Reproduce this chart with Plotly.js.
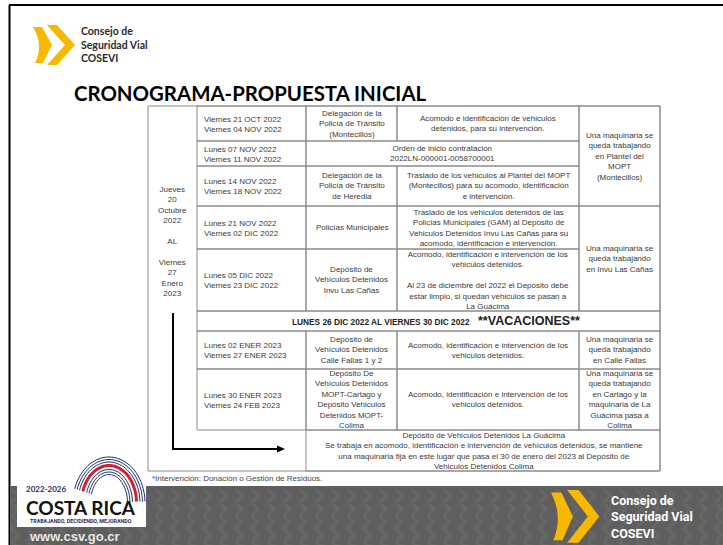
<!DOCTYPE html>
<html><head><meta charset="utf-8">
<script src="https://cdn.plot.ly/plotly-3.0.1.min.js"></script>
<style>html,body{margin:0;padding:0;background:#fff;overflow:hidden}</style>
</head><body><div id="chart" style="width:723px;height:545px"></div>
<script>
// ---------- content ----------
const title = "CRONOGRAMA-PROPUESTA INICIAL";
const orgName = ["Consejo de", "Seguridad Vial", "COSEVI"];
const periodLabel = ["Jueves", "20", "Octubre", "2022", "", "AL", "", "Viernes", "27", "Enero", "2023"];
const startDates = ["Viernes 21 OCT 2022", "Lunes 07 NOV 2022", "Lunes 14 NOV 2022", "Lunes 21 NOV 2022", "Lunes 05 DIC 2022", "Lunes 02 ENER 2023", "Lunes 30 ENER 2023"];
const endDates = ["Viernes 04 NOV 2022", "Viernes 11 NOV 2022", "Viernes 18 NOV 2022", "Viernes 02 DIC 2022", "Viernes 23 DIC 2022", "Viernes 27 ENER 2023", "Viernes 24 FEB 2023"];
const places = [
  ["Delegación de la", "Policía de Tránsito", "(Montecillos)"],
  null,
  ["Delegación de la", "Policía de Tránsito", "de Heredia"],
  ["Policías Municipales"],
  ["Depósito de", "Vehículos Detenidos", "Invu Las Cañas"],
  ["Depósito de", "Vehículos Detenidos", "Calle Fallas 1 y 2"],
  ["Depósito De", "Vehículos Detenidos", "MOPT-Cartago y", "Depósito Vehiculos", "Detenidos MOPT-", "Colima"]
];
const activities = [
  ["Acomodo e identificación de vehiculos", "detenidos, para su intervención."],
  ["Orden de inicio contratación", "2022LN-000001-0058700001"],
  ["Traslado de los vehiculos al Plantel del MOPT", "(Montecillos) para su acomodo, identificación", "e intervención."],
  ["Traslado de los vehiculos detenidos de las", "Policías Municipales (GAM) al Depósito de", "Vehiculos Detenidos Invu Las Cañas para su", "acomodo, identificación e intervención."],
  ["Acomodo, identificación e intervención de los", "vehiculos detenidos.", "", "Al 23 de diciembre del 2022 el Depósito debe", "estar limpio, si quedan vehiculos se pasan a", "La Guácima"],
  ["Acomodo, identificación e intervención de los", "vehiculos detenidos."],
  ["Acomodo, identificación e intervención de los", "vehiculos detenidos."]
];
const machinery = [
  ["Una maquinaria se", "queda trabajando", "en Plantel del", "MOPT", "(Montecillos)"],
  ["Una maquinaria se", "queda trabajando", "en Invu Las Cañas"],
  ["Una maquinaria se", "queda trabajando", "en Calle Fallas"],
  ["Una maquinaria se", "queda trabajando", "en Cartago y la", "maquinaria de La", "Guácima pasa a", "Colima"]
];
const vacationDates = "LUNES 26 DIC 2022 AL VIERNES 30 DIC 2022";
const vacationLabel = "**VACACIONES**";
const finalNote = ["Depósito de Vehiculos Detenidos La Guácima",
  "Se trabaja en acomodo, identificación e intervención de vehículos detenidos, se mantiene",
  "una maquinaria fija en este lugar que pasa el 30 de enero del 2023 al Depósito de",
  "Vehiculos Detenidos Colima"];
const footnote = "*Intervención: Donación o Gestión de Residuos.";
const govYears = "2022-2026";
const govName = "COSTA RICA";
const govMotto = "TRABAJANDO, DECIDIENDO, MEJORANDO";
const website = "www.csv.go.cr";

// ---------- layout geometry (pixel grid) ----------
const W = 723, H = 545;
const rowEdges = [106, 141, 166, 206, 249, 311, 331, 369, 430, 471];
const colEdges = [148, 197, 306, 397, 579, 660];
const dataRows = [0, 1, 2, 3, 4, 6, 7];      // table rows holding the 7 periods
const machineRows = [[0, 2], [3, 4], [6, 6], [7, 7]];
const vacRow = 5, finalRow = 8;

const lineCol = "#8a8a8a";
const txtCol = "#3a3a3a";
const tFont = {family: "Liberation Sans, Arial, sans-serif", size: 8, color: txtCol};

const shapes = [];
const ann = [];
function rect(x0, x1, y0, y1, lc, lw, fill) {
  shapes.push({type: "rect", xref: "x", yref: "y", x0, x1, y0, y1,
    line: {color: lc || lineCol, width: lw === undefined ? 1 : lw}, fillcolor: fill || "rgba(0,0,0,0)", layer: "above"});
}
function path(d, fill, lc, lw, layer) {
  shapes.push({type: "path", xref: "x", yref: "y", path: d, fillcolor: fill || "rgba(0,0,0,0)",
    line: {color: lc || "rgba(0,0,0,0)", width: lw || 0}, layer: layer || "above"});
}
function text(t, x, y, font, xa, ya, align) {
  ann.push({text: t, x, y, xref: "x", yref: "y", showarrow: false, font: font,
    xanchor: xa || "center", yanchor: ya || "middle", align: align || "center"});
}
const mid = (a, b) => (a + b) / 2;

// slide frame
path(`M9,5 L${W},5`, null, "#000", 2);
path(`M9.5,5 L9.5,${H}`, null, "#000", 2);

// footer band
rect(10.5, W + 2, 486, H + 2, "rgba(0,0,0,0)", 0, "#5f5f5f");
// subtle chevron texture
for (let yy = 490; yy < H + 10; yy += 13) {
  let d = "";
  for (let xx = 12; xx < W; xx += 16) d += `M${xx},${yy} L${xx + 6},${yy + 6} L${xx},${yy + 12} `;
  path(d, null, "rgba(255,255,255,0.05)", 3);
}

// COSEVI logo
function chevrons(ox, oy, sx, sy, col) {
  const p = (x, y) => `${(ox + x * sx).toFixed(1)},${(oy + y * sy).toFixed(1)}`;
  path(`M${p(0, 2)} L${p(9, 2)} L${p(19, 20)} L${p(10, 38)} L${p(2, 38)} Q${p(11, 20)} ${p(0, 2)} Z`, col);
  path(`M${p(14, 0)} L${p(24, 0)} L${p(42, 20)} L${p(24, 40)} L${p(14, 40)} L${p(32, 20)} Z`, col);
}
chevrons(33, 25, 1, 1, "#f6b800");
text(orgName.join("<br>"), 79, 44, {family: "Lato, sans-serif", size: 10.5, color: "#2a2a2a", weight: 700}, "left", "middle", "left");
chevrons(551, 490, 1.15, 1.32, "#f6b800");
text(orgName.join("<br>"), 609, 517, {family: "Roboto, sans-serif", size: 12.5, color: "#ffffff", weight: 700}, "left", "middle", "left");

// title
text(title, 72, 93, {family: "Lato, sans-serif", size: 20.4, color: "#000", weight: 700}, "left", "middle", "left");

// ---------- table ----------
const [cA, cB, cC, cD, cE, cF] = colEdges;
rect(cA, cF, rowEdges[0], rowEdges[finalRow + 1]);   // outer frame
dataRows.forEach((r, i) => {
  const y0 = rowEdges[r], y1 = rowEdges[r + 1], ym = mid(y0, y1);
  rect(cB, cC, y0, y1);
  text(startDates[i] + "<br>" + endDates[i], cB + 5, ym + 0.5, tFont, "left", "middle", "left");
  if (places[i]) {
    rect(cC, cD, y0, y1);
    rect(cD, cE, y0, y1);
    text(places[i].join("<br>"), mid(cC, cD), ym, tFont);
    text(activities[i].join("<br>"), mid(cD, cE), ym, tFont);
  } else {
    rect(cC, cE, y0, y1);
    text(activities[i].join("<br>"), mid(cC, cE), ym, tFont);
  }
});
machineRows.forEach((span, k) => {
  const y0 = rowEdges[span[0]], y1 = rowEdges[span[1] + 1];
  rect(cE, cF, y0, y1);
  text(machinery[k].join("<br>"), mid(cE, cF), mid(y0, y1), tFont);
});
// period column
text(periodLabel.join("<br>"), mid(cA, cB), 241, tFont);
// vacation row
const vy0 = rowEdges[vacRow], vy1 = rowEdges[vacRow + 1];
rect(cB, cF, vy0, vy1);
text("<b>" + vacationDates + "</b>", 472, mid(vy0, vy1) + 0.5, {family: "Liberation Sans, Arial, sans-serif", size: 8.3, color: "#222"}, "right");
text("<b>" + vacationLabel + "</b>", 476, mid(vy0, vy1) - 0.5, {family: "Liberation Sans, Arial, sans-serif", size: 12.5, color: "#222"}, "left");
// final row
const fy0 = rowEdges[finalRow], fy1 = rowEdges[finalRow + 1];
rect(cC, cF, fy0, fy1);
text(finalNote.join("<br>"), mid(cC, cF) + 1, mid(fy0, fy1), tFont);
// arrow
path("M173,313 L173,449 L278,449", null, "#000", 2);
path("M277,445.5 L285,449 L277,452.5 Z", "#000");
// footnote
text(footnote, 150, 478.5, {family: "Liberation Sans, Arial, sans-serif", size: 8, color: "#444"}, "left");

// ---------- Costa Rica logo ----------
rect(17, 146, 478, 527, "rgba(0,0,0,0)", 0, "#ffffff");
function arc(cx, cy, rx, ry, a0, a1, col, w) {
  let d = "";
  for (let a = a0; a <= a1 + 0.01; a += 4) {
    const t = a * Math.PI / 180;
    d += (d ? " L" : "M") + (cx + rx * Math.cos(t)).toFixed(1) + "," + (cy - ry * Math.sin(t)).toFixed(1);
  }
  path(d, null, col, w);
}
const cx = 109, cy = 503;
[[36, 46, "#1f2a6b", 1], [33.5, 43.5, "#1f2a6b", 1], [31, 41, "#1f2a6b", 1],
 [27.5, 37.5, "#d3202f", 3], [23.5, 33.5, "#1f2a6b", 1], [21, 31, "#1f2a6b", 1], [18.5, 28.5, "#1f2a6b", 1]]
  .forEach(s => arc(cx, cy, s[0], s[1], 2, 165, s[2], s[3]));
text("<b>" + govYears + "</b>", 24, 489, {family: "Lato, sans-serif", size: 8, color: "#1f2a6b"}, "left");
text("<b>" + govName + "</b>", 81, 507, {family: "Lato, sans-serif", size: 19, color: "#111"}, "center");
text("<b>" + govMotto + "</b>", 81, 521, {family: "Roboto, sans-serif", size: 5.3, color: "#1f2a6b"}, "center");
text("<b>" + website + "</b>", 27, 536, {family: "Liberation Sans, Arial, sans-serif", size: 13, color: "#e8e8e8"}, "left");

const layout = {
  width: W, height: H, margin: {l: 0, r: 0, t: 0, b: 0},
  paper_bgcolor: "#ffffff", plot_bgcolor: "#ffffff",
  xaxis: {range: [0, W], visible: false, fixedrange: true},
  yaxis: {range: [H, 0], visible: false, fixedrange: true},
  shapes: shapes, annotations: ann, showlegend: false
};
Plotly.newPlot("chart", [{type: "scatter", x: [], y: [], mode: "markers"}], layout, {staticPlot: true, displayModeBar: false});
</script></body></html>
